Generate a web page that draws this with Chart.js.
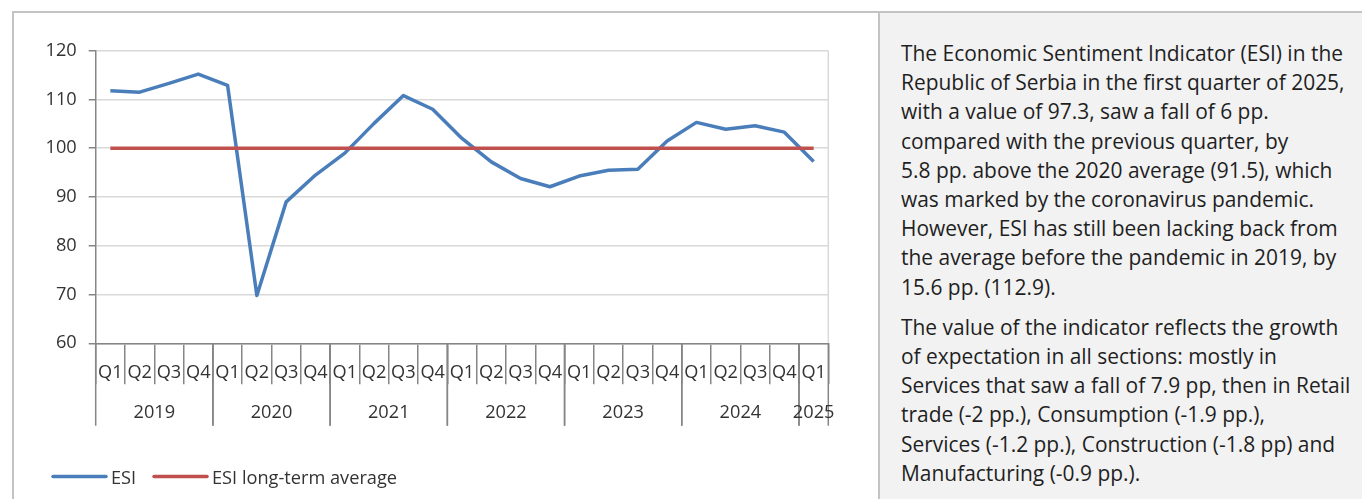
<!DOCTYPE html>
<html>
<head>
<meta charset="utf-8">
<script src="https://cdn.jsdelivr.net/npm/chart.js@4.4.1/dist/chart.umd.min.js"></script>
<style>
  body { margin: 0; width: 1362px; height: 499px; background: #fff; position: relative; overflow: hidden; font-family: "Open Sans", sans-serif; }
  #frame { position: absolute; left: 12px; top: 11px; width: 1360px; height: 500px; border-left: 2px solid #c3c3c3; border-top: 2px solid #c3c3c3; }
  #chartBox { position: absolute; left: 0; top: 0; width: 878px; height: 499px; }
  #panel { position: absolute; left: 878px; top: 13px; right: 0; bottom: 0; background: #f2f2f2; border-left: 2px solid #c3c3c3; }
  #panel p { margin: 0; padding-left: 21px; font-size: 19px; line-height: 29.2px; color: #1f1f1f; white-space: nowrap; }
  #panel p + p { margin-top: 11px; }
  #panel p:first-child { padding-top: 26px; }
</style>
</head>
<body>
<div id="frame"></div>
<div id="panel">
  <p><span id="fit">The Economic Sentiment Indicator (ESI) in the</span><br>Republic of Serbia in the first quarter of 2025,<br>with a value of 97.3, saw a fall of 6 pp.<br>compared with the previous quarter, by<br>5.8 pp. above the 2020 average (91.5), which<br>was marked by the coronavirus pandemic.<br>However, ESI has still been lacking back from<br>the average before the pandemic in 2019, by<br>15.6 pp. (112.9).</p>
  <p>The value of the indicator reflects the growth<br>of expectation in all sections: mostly in<br>Services that saw a fall of 7.9 pp, then in Retail<br>trade (-2 pp.), Consumption (-1.9 pp.),<br>Services (-1.2 pp.), Construction (-1.8 pp) and<br>Manufacturing (-0.9 pp.).</p>
</div>
<div id="chartBox"><canvas id="esiChart" width="878" height="499"></canvas></div>

<script>
// quarterly data, 2019 Q1 - 2025 Q1
var quarters = ["Q1","Q2","Q3","Q4","Q1","Q2","Q3","Q4","Q1","Q2","Q3","Q4","Q1","Q2","Q3","Q4",
                "Q1","Q2","Q3","Q4","Q1","Q2","Q3","Q4","Q1"];
var years = ["2019", "2020", "2021", "2022", "2023", "2024", "2025"];
var quartersPerYear = [4, 4, 4, 4, 4, 4, 1];
var esi = [111.8, 111.5, 113.3, 115.2, 112.9, 69.8, 89.0, 94.5, 99.0, 105.1, 110.8, 108.0,
           102.0, 97.2, 93.8, 92.1, 94.3, 95.5, 95.7, 101.5, 105.3, 103.9, 104.6, 103.3, 97.3];
var esiLongTerm = [100, 100, 100, 100, 100, 100, 100, 100, 100, 100, 100, 100,
                   100, 100, 100, 100, 100, 100, 100, 100, 100, 100, 100, 100, 100];
var yTicks = [60, 70, 80, 90, 100, 110, 120];

// fit the side text to the width of the original first line
var fitSpan = document.getElementById('fit');
var fitW = fitSpan.getBoundingClientRect().width;
document.querySelectorAll('#panel p').forEach(function(p) {
    p.style.fontSize = (19 * 442 / fitW).toFixed(2) + 'px';
});

var axisGrey = '#868686';
var textColor = '#333333';
var fontFamily = '"Open Sans", sans-serif';
var fontSize = 18.2;

Chart.defaults.font.family = fontFamily;
Chart.defaults.font.size = fontSize;
Chart.defaults.color = textColor;

// year groups, plot frame and legend, drawn off the x scale
var extras = {
    id: 'extras',
    afterDraw: function(chart) {
        var ctx = chart.ctx;
        var x = chart.scales.x;
        var area = chart.chartArea;
        ctx.save();

        // right edge of plot area
        ctx.strokeStyle = '#d9d9d9';
        ctx.lineWidth = 1.5;
        ctx.beginPath();
        ctx.moveTo(area.right, area.top);
        ctx.lineTo(area.right, area.bottom);
        ctx.stroke();

        // year separators + labels
        ctx.strokeStyle = axisGrey;
        ctx.lineWidth = 1.5;
        ctx.fillStyle = textColor;
        ctx.font = fontSize + 'px ' + fontFamily;
        ctx.textAlign = 'center';
        ctx.textBaseline = 'middle';
        var start = 0;
        for (var i = 0; i < years.length; i++) {
            var end = start + quartersPerYear[i];
            var x0 = x.getPixelForValue(start - 0.5);
            var x1 = x.getPixelForValue(end - 0.5);
            ctx.beginPath();
            ctx.moveTo(x0, area.bottom);
            ctx.lineTo(x0, area.bottom + 82.5);
            ctx.moveTo(x1, area.bottom);
            ctx.lineTo(x1, area.bottom + 82.5);
            ctx.stroke();
            ctx.fillText(years[i], (x0 + x1) / 2, area.bottom + 70);
            start = end;
        }

        // legend
        var items = [
            { ds: chart.data.datasets[1], x: 53 },
            { ds: chart.data.datasets[0], x: 154 }
        ];
        ctx.textAlign = 'left';
        ctx.lineWidth = 3.5;
        ctx.lineCap = 'round';
        items.forEach(function(it) {
            ctx.strokeStyle = it.ds.borderColor;
            ctx.beginPath();
            ctx.moveTo(it.x, 476.5);
            ctx.lineTo(it.x + 53, 476.5);
            ctx.stroke();
            ctx.fillText(it.ds.label, it.x + 58, 478.5);
        });
        ctx.restore();
    }
};

var ctx = document.getElementById('esiChart');
var esiChart = new Chart(ctx, {
    type: 'line',
    data: {
        labels: quarters,
        datasets: [{
            label: 'ESI long-term average',
            data: esiLongTerm,
            borderColor: '#c0504d',
            borderWidth: 3.5,
            pointRadius: 0,
            order: 0
        }, {
            label: 'ESI',
            data: esi,
            borderColor: '#4a7ebb',
            borderWidth: 3.5,
            pointRadius: 0,
            borderJoinStyle: 'round',
            order: 1
        }]
    },
    options: {
        responsive: false,
        animation: false,
        devicePixelRatio: 1,
        layout: { padding: { left: 0, top: 50.7, right: 49.7, bottom: 0 } },
        plugins: {
            legend: { display: false },
            tooltip: { enabled: false }
        },
        scales: {
            x: {
                type: 'category',
                offset: true,
                grid: {
                    offset: true,
                    drawOnChartArea: false,
                    tickLength: 41,
                    tickColor: axisGrey,
                    lineWidth: 1.5
                },
                border: { color: axisGrey, width: 1.5 },
                ticks: { autoSkip: false, maxRotation: 0, minRotation: 0, padding: -22 },
                afterFit: function(scale) { scale.height = 155.7; }
            },
            y: {
                min: 60,
                max: 120,
                afterBuildTicks: function(scale) {
                    scale.ticks = yTicks.map(function(v) { return { value: v }; });
                },
                grid: { color: '#d9d9d9', lineWidth: 1.5, tickLength: 7, tickColor: axisGrey },
                border: { color: axisGrey, width: 1.5 },
                ticks: { padding: 12 },
                afterFit: function(scale) { scale.width = 95.7; }
            }
        }
    },
    plugins: [extras]
});
</script>
</body>
</html>
